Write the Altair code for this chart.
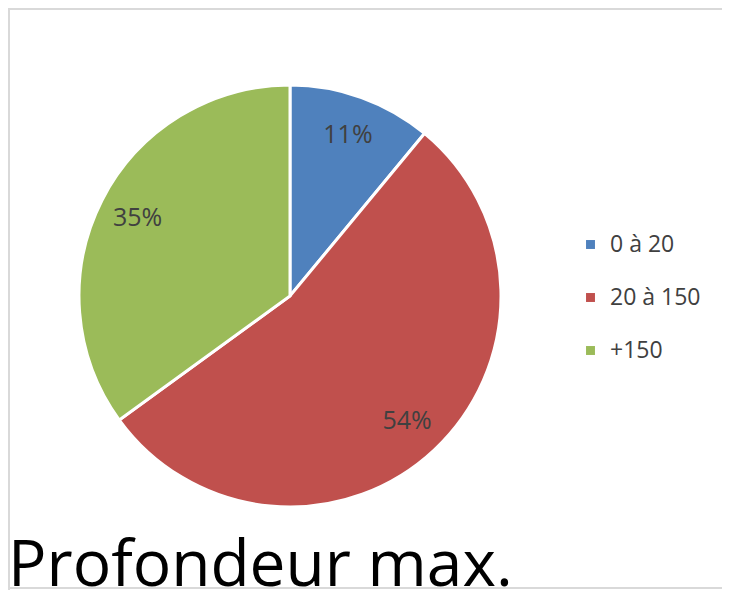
import altair as alt
import pandas as pd

categories = ["0 à 20", "20 à 150", "+150"]
values = [11, 54, 35]
labels = ["11%", "54%", "35%"]
colors = ["#4F81BD", "#C0504D", "#9BBB59"]
title_text = "Profondeur max."

df = pd.DataFrame({"cat": categories, "val": values, "lab": labels, "idx": list(range(len(values)))})
FONT = "Open Sans, Liberation Sans, sans-serif"

CX, CY, R = 282, 288, 211
FRAME = "#d9d9d9"

base = alt.Chart(df).encode(
    theta=alt.Theta("val:Q", stack=True),
    order=alt.Order("idx:Q"),
)

arcs = base.mark_arc(x=CX, y=CY, outerRadius=R, stroke="white", strokeWidth=3).encode(
    color=alt.Color(
        "cat:N",
        scale=alt.Scale(domain=categories, range=colors),
        sort=categories,
        legend=alt.Legend(
            title=None,
            orient="none",
            legendX=571,
            legendY=225,
            symbolType="square",
            symbolSize=80,
            symbolStrokeWidth=0,
            labelFont=FONT,
            labelFontSize=23,
            labelColor="#404040",
            labelOffset=8,
            rowPadding=29,
        ),
    )
)

texts = base.mark_text(x=CX, y=CY, radius=171, font=FONT, fontSize=25, color="#404040").encode(
    text="lab:N"
)

title = alt.Chart(pd.DataFrame({"t": [title_text]})).mark_text(
    align="left", baseline="alphabetic", font=FONT, fontSize=64, color="black"
).encode(x=alt.value(0), y=alt.value(578), text="t:N")

one = pd.DataFrame({"k": [0]})
frame_top = alt.Chart(one).mark_rect(color=FRAME, strokeWidth=0).encode(
    x=alt.value(0), x2=alt.value(714), y=alt.value(0), y2=alt.value(2)
)
frame_left = alt.Chart(one).mark_rect(color=FRAME, strokeWidth=0).encode(
    x=alt.value(0), x2=alt.value(2), y=alt.value(0), y2=alt.value(582)
)
frame_bottom = alt.Chart(one).mark_rect(color=FRAME, strokeWidth=0).encode(
    x=alt.value(0), x2=alt.value(714), y=alt.value(579), y2=alt.value(581)
)

chart = alt.layer(frame_top, frame_left, frame_bottom, arcs, texts, title).properties(
    width=714, height=582, padding=0, autosize=alt.AutoSizeParams(type="none"),
).configure_view(stroke=None, strokeWidth=0)

chart.save("out.html", embed_options={"renderer": "svg", "actions": False})
